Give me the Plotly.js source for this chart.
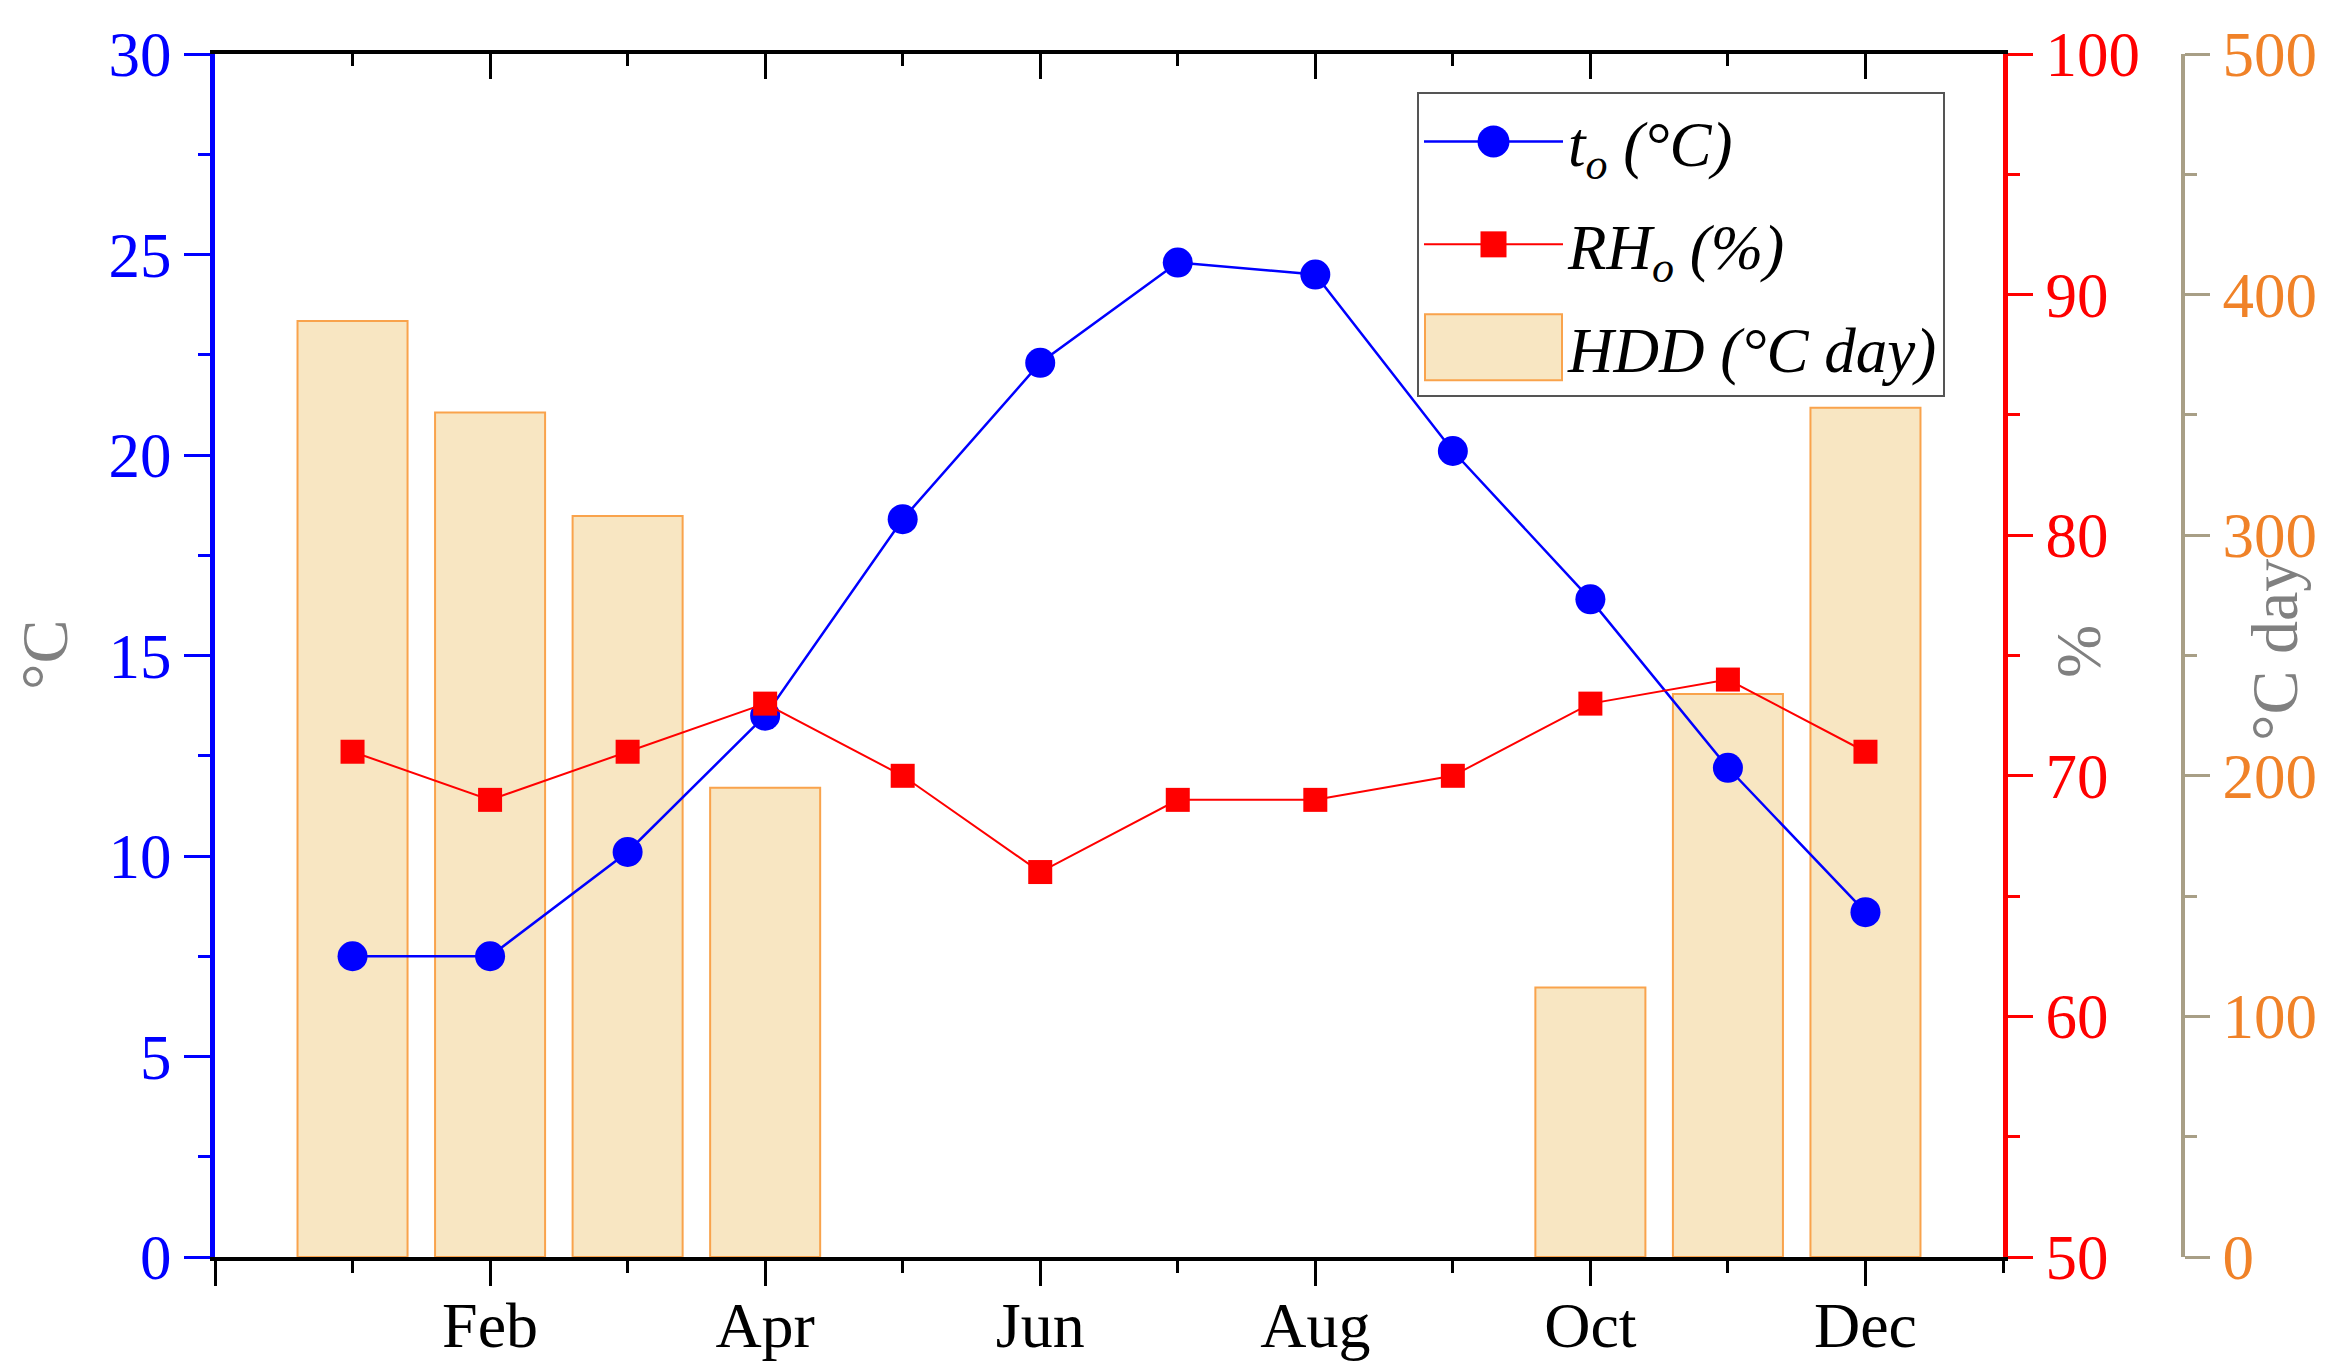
<!DOCTYPE html>
<html><head><meta charset="utf-8">
<script src="https://cdn.plot.ly/plotly-3.0.1.min.js"></script>
<style>html,body{margin:0;padding:0;background:#fff}</style>
</head><body><div id="chart" style="width:2339px;height:1370px"></div>
<script>
const months = ['Jan','Feb','Mar','Apr','May','Jun','Jul','Aug','Sep','Oct','Nov','Dec'];
const monthNumbers = [1,2,3,4,5,6,7,8,9,10,11,12];
const outdoorTemp = [7.5,7.5,10.1,13.5,18.4,22.3,24.8,24.5,20.1,16.4,12.2,8.6];
const outdoorRH = [71,69,71,73,70,66,69,69,70,73,74,71];
const hdd = [389,351,308,195,null,null,null,null,null,112,234,353];
const seriesNames = ['<i>t<sub>o</sub> (°C)</i>','<i>RH<sub>o</sub> (%)</i>','<i>HDD (°C day)</i>'];
const axisTitles = ['°C','%','°C day'];

// x tick labels: every second month, plus an unlabeled tick at 0
const xTickVals = [0].concat(monthNumbers.filter(m => m % 2 === 0));
const xTickText = [' '].concat(months.filter((m, i) => (i + 1) % 2 === 0));

const FONT = 'Liberation Serif, Times New Roman, serif';
const BLUE = '#0000FF', RED = '#FF0000', TAN = '#A89F86', ORANGE = '#F08228', GRAY = '#808080';
const BAR_FILL = '#F8E6C2', BAR_LINE = '#F9A34C';

const L = 215, R = 156, T = 54, B = 113, W = 2339, H = 1370;
const paperW = W - L - R;
const plotRight = 2003;
const xDomEnd = (plotRight - L) / paperW;
function px(X){ return (X - L) / paperW; }
function py(Y){ return 1 - (Y - T) / (H - T - B); }

const traces = [
  {type:'bar', x: monthNumbers, y: hdd, xaxis:'x', yaxis:'y', width:0.8,
   name: seriesNames[2], legendrank:3, legendgroup:'g3',
   marker:{color:BAR_FILL, line:{color:BAR_LINE, width:2}}},
  {type:'scatter', mode:'lines+markers', x: monthNumbers, y: outdoorTemp, xaxis:'x', yaxis:'y2',
   name: seriesNames[0], legendrank:1, legendgroup:'g1',
   line:{color:BLUE, width:2.5}, marker:{color:BLUE, size:30, symbol:'circle'}},
  {type:'scatter', mode:'lines+markers', x: monthNumbers, y: outdoorRH, xaxis:'x2', yaxis:'y3',
   name: seriesNames[1], legendrank:2, legendgroup:'g2',
   line:{color:RED, width:2}, marker:{color:RED, size:24, symbol:'square'}}
];

const TS = 63;
const tickFont = (c) => ({family: FONT, size: TS, color: c});

const layout = {
  width: W, height: H,
  margin: {l: L, r: R, t: T, b: B, pad: 0},
  paper_bgcolor: '#fff', plot_bgcolor: '#fff',
  showlegend: true,
  xaxis: {domain:[0, xDomEnd], range:[0,13], anchor:'y', showgrid:false, zeroline:false,
    tickmode:'array', tickvals: xTickVals, ticktext: xTickText,
    ticks:'outside', ticklen:25, tickwidth:3, tickcolor:'#000',
    showline:true, linecolor:'#000', linewidth:4,
    tickfont: {family: FONT, size: 64, color:'#000'}, ticklabelstandoff:-16,
    minor:{tickmode:'linear', tick0:0, dtick:1, ticks:'outside', ticklen:12, tickwidth:3, tickcolor:'#000', showgrid:false}},
  xaxis2: {overlaying:'x', side:'top', anchor:'y', range:[0,13], showgrid:false, zeroline:false,
    tickmode:'array', tickvals: xTickVals, showticklabels:false,
    ticks:'inside', ticklen:25, tickwidth:3, tickcolor:'#000',
    showline:true, linecolor:'#000', linewidth:4,
    minor:{tickmode:'linear', tick0:0, dtick:1, ticks:'inside', ticklen:12, tickwidth:3, tickcolor:'#000', showgrid:false}},
  yaxis: {domain:[0,1], range:[0,500], side:'right', anchor:'free', position:1,
    showgrid:false, zeroline:false, dtick:100, tick0:0,
    ticks:'outside', ticklen:25, tickwidth:3, tickcolor:TAN,
    showline:true, linecolor:TAN, linewidth:4, tickfont: tickFont(ORANGE),
    minor:{dtick:50, tick0:0, ticks:'outside', ticklen:12, tickwidth:3, tickcolor:TAN, showgrid:false}},
  yaxis2: {overlaying:'y', side:'left', anchor:'x', range:[0,30],
    showgrid:false, zeroline:false, dtick:5, tick0:0,
    ticks:'outside', ticklen:26, tickwidth:3, tickcolor:BLUE,
    showline:true, linecolor:BLUE, linewidth:5, tickfont: tickFont(BLUE),
    minor:{dtick:2.5, tick0:0, ticks:'outside', ticklen:12, tickwidth:3, tickcolor:BLUE, showgrid:false}},
  yaxis3: {overlaying:'y', side:'right', anchor:'x', range:[50,100],
    showgrid:false, zeroline:false, dtick:10, tick0:50,
    ticks:'outside', ticklen:25, tickwidth:3, tickcolor:RED,
    showline:true, linecolor:RED, linewidth:5, tickfont: tickFont(RED),
    minor:{dtick:5, tick0:50, ticks:'outside', ticklen:12, tickwidth:3, tickcolor:RED, showgrid:false}},
  legend: {x: px(1417), y: py(92), xanchor:'left', yanchor:'top',
    bgcolor:'#fff', bordercolor:'#555', borderwidth:2,
    font:{family: FONT, size: 63, color:'#000'}, itemwidth:139,
    traceorder:'grouped', tracegroupgap:18},
  annotations: [
    {text: axisTitles[0], xref:'paper', yref:'paper', x: px(45), y: py(655), textangle:-90,
     showarrow:false, xanchor:'center', yanchor:'middle', font:{family: FONT, size:66, color:GRAY}},
    {text: axisTitles[1], xref:'paper', yref:'paper', x: px(2078), y: py(652), textangle:-90,
     showarrow:false, xanchor:'center', yanchor:'middle', font:{family: FONT, size:64, color:GRAY}},
    {text: axisTitles[2], xref:'paper', yref:'paper', x: px(2275), y: py(650), textangle:-90,
     showarrow:false, xanchor:'center', yanchor:'middle', font:{family: FONT, size:66, color:GRAY}}
  ]
};

Plotly.newPlot('chart', traces, layout, {displayModeBar:false, responsive:false}).then(function(gd){
  // enlarge legend swatches to match the reference legend
  const items = Array.from(gd.querySelectorAll('.legend .traces'));
  let lineBox = null;
  items.forEach(function(it){
    const ln = it.querySelector('.legendlines path');
    if (ln && !lineBox) { try { lineBox = ln.getBBox(); } catch(e){} }
  });
  items.forEach(function(it){
    const hasLine = !!it.querySelector('.legendlines path');
    const pts = it.querySelectorAll('.legendsymbols path.scatterpts');
    pts.forEach(function(p){
      const d = p.getAttribute('d') || '';
      if (d.indexOf('A') >= 0) {
        const r = 16;
        p.setAttribute('d', 'M'+r+',0A'+r+','+r+' 0 1,1 0,-'+r+'A'+r+','+r+' 0 0,1 '+r+',0Z');
      } else {
        const h = 13;
        p.setAttribute('d', 'M'+h+','+h+'H-'+h+'V-'+h+'H'+h+'Z');
      }
    });
    if (!hasLine && lineBox) {
      const paths = it.querySelectorAll('.legendpoints path');
      paths.forEach(function(bar){
        const x0 = lineBox.x + 1, x1 = lineBox.x + lineBox.width - 1, hh = 33;
        bar.removeAttribute('transform');
        bar.setAttribute('d', 'M'+x0+','+(-hh)+'H'+x1+'V'+hh+'H'+x0+'Z');
        bar.style.fill = BAR_FILL;
        bar.style.stroke = BAR_LINE;
        bar.style.strokeWidth = '2px';
      });
    }
  });
});
</script></body></html>
